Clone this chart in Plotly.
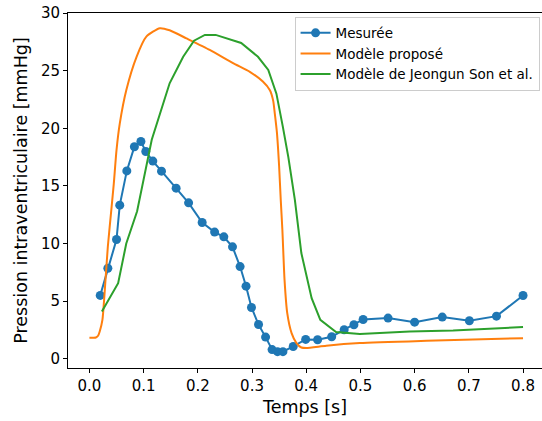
import plotly.graph_objects as go

# Measured
t_mes = [0.020, 0.034, 0.050, 0.056, 0.069, 0.083, 0.095, 0.104, 0.117, 0.133, 0.160, 0.183,
         0.208, 0.231, 0.248, 0.264, 0.278, 0.289, 0.299, 0.312, 0.325, 0.337, 0.347, 0.357,
         0.376, 0.399, 0.421, 0.447, 0.470, 0.488, 0.505, 0.551, 0.600, 0.651, 0.701, 0.751, 0.800]
p_mes = [5.5, 7.85, 10.35, 13.33, 16.3, 18.4, 18.85, 17.98, 17.15, 16.28, 14.8, 13.53,
         11.82, 10.99, 10.58, 9.71, 8.0, 6.3, 4.45, 2.97, 1.88, 0.8, 0.62, 0.62,
         1.07, 1.68, 1.65, 1.91, 2.52, 2.95, 3.41, 3.53, 3.18, 3.62, 3.30, 3.70, 5.49]

# Proposed model
t_prop = [0.000, 0.012, 0.016, 0.019, 0.024, 0.028, 0.034, 0.041, 0.045, 0.050, 0.056, 0.068,
          0.087, 0.105, 0.130, 0.148, 0.179, 0.222, 0.265, 0.296, 0.320, 0.333, 0.339, 0.342,
          0.346, 0.350, 0.353, 0.356, 0.360, 0.365, 0.373, 0.382, 0.391, 0.400, 0.437, 0.499,
          0.622, 0.800]
p_prop = [1.82, 1.85, 2.0, 2.37, 3.38, 5.7, 9.74, 13.2, 15.2, 18.1, 20.4, 23.3,
          26.2, 27.95, 28.68, 28.5, 27.8, 26.8, 25.65, 24.9, 24.05, 23.3, 22.4, 21.3,
          19.6, 16.7, 13.8, 11.2, 6.85, 3.96, 2.23, 1.36, 0.98, 0.93, 1.13, 1.36,
          1.56, 1.79]

# Jeongun Son et al. model
t_son = [0.023, 0.053, 0.068, 0.088, 0.115, 0.148, 0.173, 0.193, 0.213, 0.233, 0.280, 0.311,
         0.330, 0.345, 0.357, 0.367, 0.379, 0.391, 0.410, 0.426, 0.455, 0.499, 0.591, 0.671, 0.800]
p_son = [4.1, 6.56, 10.0, 12.8, 19.0, 23.9, 26.2, 27.6, 28.1, 28.1, 27.4, 26.2,
         25.06, 23.0, 20.1, 17.5, 13.8, 9.17, 5.26, 3.38, 2.32, 2.14, 2.37, 2.45, 2.75]

font = "DejaVu Sans, sans-serif"

fig = go.Figure()
fig.add_trace(go.Scatter(x=t_mes, y=p_mes, mode="lines+markers", name="Mesurée",
                         line=dict(color="#1f77b4", width=2),
                         marker=dict(color="#1f77b4", size=9)))
fig.add_trace(go.Scatter(x=t_prop, y=p_prop, mode="lines", name="Modèle proposé",
                         line=dict(color="#ff7f0e", width=2, shape="spline", smoothing=0.6)))
fig.add_trace(go.Scatter(x=t_son, y=p_son, mode="lines", name="Modèle de Jeongun Son et al.",
                         line=dict(color="#2ca02c", width=2)))

fig.update_layout(
    width=542, height=421,
    margin=dict(l=68, r=0, t=13, b=53),
    plot_bgcolor="white", paper_bgcolor="white",
    font=dict(family=font, size=15, color="black"),
    showlegend=True,
    legend=dict(x=0.478, y=0.99, xanchor="left", yanchor="top",
                bgcolor="rgba(255,255,255,0.8)", bordercolor="#cccccc", borderwidth=1,
                font=dict(size=13.5), tracegroupgap=0, itemwidth=30),
)
fig.update_xaxes(range=[-0.0395, 0.835], tickvals=[0, 0.1, 0.2, 0.3, 0.4, 0.5, 0.6, 0.7, 0.8],
                 ticktext=["0.0", "0.1", "0.2", "0.3", "0.4", "0.5", "0.6", "0.7", "0.8"],
                 showline=True, linecolor="black", linewidth=1, mirror=True, automargin=False,
                 ticks="outside", ticklen=4, tickcolor="black", showgrid=False, zeroline=False,
                 title=dict(text="Temps [s]", font=dict(size=17.5), standoff=6))
fig.update_yaxes(range=[-0.8, 30], tickvals=[0, 5, 10, 15, 20, 25, 30],
                 showline=True, linecolor="black", linewidth=1, automargin=False,
                 ticks="outside", ticklen=4, tickcolor="black", showgrid=False, zeroline=False,
                 title=dict(text="Pression intraventriculaire [mmHg]", font=dict(size=17.5), standoff=8))

fig.write_html("out.html", config={"displayModeBar": False},
               post_script="document.body.style.margin='0';document.body.style.overflow='hidden';")
